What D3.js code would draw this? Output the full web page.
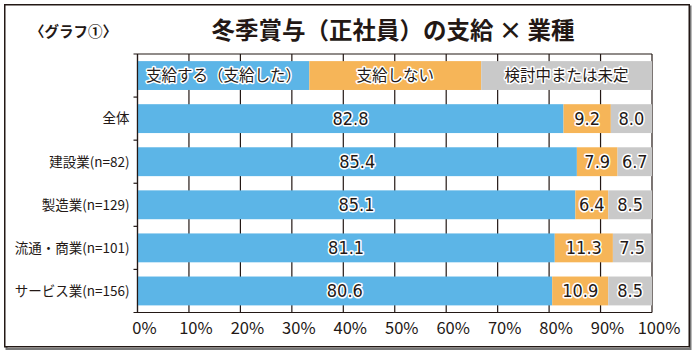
<!DOCTYPE html>
<html>
<head>
<meta charset="utf-8">
<script src="https://cdn.jsdelivr.net/npm/d3@7"></script>
<style>
  body { margin: 0; background: #fff; }
  svg { display: block; }
  text { font-family: "Noto Sans CJK JP", "Noto Sans", sans-serif; fill: #231815; }
</style>
</head>
<body>
<div id="chart"></div>
<script>
// categories (top to bottom) and the three answer shares, %
const categories = ['全体', '建設業(n=82)', '製造業(n=129)', '流通・商業(n=101)', 'サービス業(n=156)'];
const seriesNames = ['支給する（支給した）', '支給しない', '検討中または未定'];
const paid = [82.8, 85.4, 85.1, 81.1, 80.6];
const notPaid = [9.2, 7.9, 6.4, 11.3, 10.9];
const undecided = [8.0, 6.7, 8.5, 7.5, 8.5];
const legendShares = [33.4, 33.4, 33.2];
const xTicks = [0, 10, 20, 30, 40, 50, 60, 70, 80, 90, 100];
const colors = ['#5cb5e7', '#f6b558', '#c9c9c9'];

const width = 695, height = 354;
const svg = d3.select('#chart').append('svg')
    .attr('width', width)
    .attr('height', height);

// frame with a grey drop shadow on bottom/right
svg.append('rect')
    .attr('x', 6.5).attr('y', 6.5).attr('width', 684).attr('height', 342.5)
    .attr('fill', 'none').attr('stroke', '#777').attr('stroke-width', 2);
svg.append('rect')
    .attr('x', 4.75).attr('y', 4.75).attr('width', 684.5).attr('height', 342)
    .attr('fill', '#fff').attr('stroke', '#231815').attr('stroke-width', 1.5);

// titles
svg.append('text')
    .attr('x', 30).attr('y', 37)
    .attr('font-size', 14.5).attr('font-weight', 'bold')
    .text('〈グラフ①〉');
svg.append('text')
    .attr('x', 393).attr('y', 39)
    .attr('text-anchor', 'middle')
    .attr('font-size', 23.5).attr('font-weight', 'bold')
    .text('冬季賞与（正社員）の支給 × 業種');

const plotLeft = 137.5, plotRight = 652, plotTop = 54, plotBottom = 312.5;

const xScale = d3.scaleLinear().domain([0, 100]).range([plotLeft, plotRight]);
// first band is the legend row, the rest are categories
const rows = ['legend'].concat(categories);
const yScale = d3.scaleBand().domain(rows).range([plotTop, plotBottom]).paddingInner(0.33).paddingOuter(0.165);
const yAxisScale = d3.scaleBand().domain(rows).range([plotTop, plotBottom]);

// grid: vertical lines + top line
const grid = svg.append('g');
grid.selectAll('line.v')
    .data(xTicks)
    .enter().append('line')
    .attr('x1', d => xScale(d)).attr('x2', d => xScale(d))
    .attr('y1', plotTop).attr('y2', plotBottom)
    .attr('stroke', '#231815').attr('stroke-width', 1.2);
grid.append('line')
    .attr('x1', plotLeft - 4).attr('x2', plotRight)
    .attr('y1', plotTop).attr('y2', plotTop)
    .attr('stroke', '#231815').attr('stroke-width', 1.2);

// stacked rows
const table = rows.map((r, i) => {
    const vals = i === 0 ? legendShares : [paid[i - 1], notPaid[i - 1], undecided[i - 1]];
    let acc = 0;
    return vals.map((v, k) => {
        const seg = {row: r, k: k, x0: acc, x1: acc + v, v: v,
            label: i === 0 ? seriesNames[k] : v.toFixed(1), legend: i === 0};
        acc += v;
        return seg;
    });
}).flat();

svg.append('g').selectAll('rect')
    .data(table)
    .enter().append('rect')
    .attr('x', d => xScale(d.x0))
    .attr('y', d => yScale(d.row))
    .attr('width', d => xScale(d.x1) - xScale(d.x0))
    .attr('height', yScale.bandwidth())
    .attr('fill', d => colors[d.k]);

// labels with white halo
svg.append('g').selectAll('text')
    .data(table)
    .enter().append('text')
    .attr('x', d => (xScale(d.x0) + xScale(d.x1)) / 2)
    .attr('y', d => yScale(d.row) + yScale.bandwidth() / 2)
    .attr('dy', '0.36em')
    .attr('text-anchor', 'middle')
    .attr('font-size', d => d.legend ? 15.5 : 18)
    .style('font-family', d => d.legend ? null : '"Liberation Sans Narrow", "DejaVu Sans Condensed", sans-serif')
    .attr('stroke', '#fff').attr('stroke-width', 3).attr('stroke-linejoin', 'round')
    .attr('paint-order', 'stroke')
    .text(d => d.label);

// left axis
const yAxis = svg.append('g')
    .attr('transform', `translate(${plotLeft},0)`);
yAxis.append('line')
    .attr('x1', 0).attr('x2', 0).attr('y1', plotTop).attr('y2', plotBottom)
    .attr('stroke', '#231815').attr('stroke-width', 1.2);
yAxis.selectAll('line.tick')
    .data(rows.slice(1))
    .enter().append('line')
    .attr('x1', -4).attr('x2', 0)
    .attr('y1', d => yAxisScale(d)).attr('y2', d => yAxisScale(d))
    .attr('stroke', '#231815').attr('stroke-width', 1.2);
yAxis.selectAll('text')
    .data(categories)
    .enter().append('text')
    .attr('x', -8)
    .attr('y', d => yScale(d) + yScale.bandwidth() / 2)
    .attr('dy', '0.36em')
    .attr('text-anchor', 'end')
    .attr('font-size', 13.5)
    .text(d => d);

// bottom axis
svg.append('line')
    .attr('x1', plotLeft - 4).attr('x2', plotRight)
    .attr('y1', plotBottom).attr('y2', plotBottom)
    .attr('stroke', '#231815').attr('stroke-width', 1.2);
svg.append('g').selectAll('text')
    .data(xTicks)
    .enter().append('text')
    .attr('x', d => xScale(d) + 7)
    .attr('y', 334)
    .attr('text-anchor', 'middle')
    .attr('font-size', 16.5)
    .text(d => d + '%');
</script>
</body>
</html>
